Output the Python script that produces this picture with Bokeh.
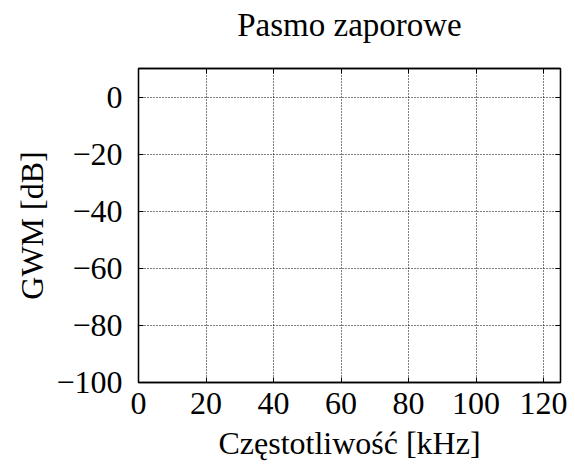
from bokeh.plotting import figure
from bokeh.models import Range1d, LinearAxis, FixedTicker
from bokeh.embed import file_html
from bokeh.resources import INLINE

# ---- data / labels ----
title_text = "Pasmo zaporowe"
x_label = "Częstotliwość [kHz]"
y_label = "GWM [dB]"
x_ticks = [0, 20, 40, 60, 80, 100, 120]
y_ticks = [-100, -80, -60, -40, -20, 0]
x_limits = [0, 125]
y_limits = [-100, 10]

FONT = "Liberation Serif"
TICK_SIZE = "32px"
LABEL_SIZE = "32px"


def fmt(v):
    return str(v).replace("-", "\u2212")


p = figure(width=575, height=471, output_backend="svg", toolbar_location=None,
           x_range=Range1d(*x_limits), y_range=Range1d(*y_limits),
           min_border_left=138, min_border_right=15,
           min_border_top=68, min_border_bottom=89)

p.background_fill_color = "white"
p.border_fill_color = "white"
p.outline_line_color = "black"
p.outline_line_width = 1.3

for ax, ticks in ((p.xaxis[0], x_ticks), (p.yaxis[0], y_ticks)):
    ax.ticker = FixedTicker(ticks=ticks)
    ax.major_label_overrides = {t: fmt(t) for t in ticks}
    ax.major_label_text_font = FONT
    ax.major_label_text_font_size = TICK_SIZE
    ax.major_label_text_color = "black"
    ax.axis_label_text_font = FONT
    ax.axis_label_text_font_size = LABEL_SIZE
    ax.axis_label_text_font_style = "normal"
    ax.axis_label_text_color = "black"
    ax.axis_line_color = "black"
    ax.axis_line_width = 1.3
    ax.major_tick_in = 5
    ax.major_tick_out = 0
    ax.major_tick_line_color = "black"
    ax.minor_tick_line_color = None

p.xaxis[0].axis_label = x_label
p.yaxis[0].axis_label = y_label
p.xaxis[0].major_label_standoff = 10
p.xaxis[0].axis_label_standoff = 8
p.yaxis[0].major_label_standoff = 16
p.yaxis[0].axis_label_standoff = 3

# mirrored ticks on top and right (no tick labels); the top one carries the title
axes = {}
for loc, ticks in (("above", x_ticks), ("right", y_ticks)):
    a = LinearAxis(ticker=FixedTicker(ticks=ticks))
    a.major_label_text_font_size = "1px"
    a.major_label_text_color = None
    a.major_label_standoff = 0
    a.major_tick_in = 5
    a.major_tick_out = 0
    a.major_tick_line_color = "black"
    a.minor_tick_line_color = None
    a.axis_line_color = "black"
    a.axis_line_width = 1.3
    p.add_layout(a, loc)
    axes[loc] = a

top = axes["above"]
top.axis_label = title_text
top.axis_label_text_font = FONT
top.axis_label_text_font_size = "33px"
top.axis_label_text_font_style = "normal"
top.axis_label_text_color = "black"
top.axis_label_standoff = 26

p.xgrid.ticker = FixedTicker(ticks=x_ticks)
p.ygrid.ticker = FixedTicker(ticks=y_ticks)
for g in (p.xgrid[0], p.ygrid[0]):
    g.grid_line_color = "black"
    g.grid_line_dash = "1 2"
    g.grid_line_width = 1
    g.grid_line_alpha = 1.0

open("out.html", "w").write(file_html(p, INLINE))
